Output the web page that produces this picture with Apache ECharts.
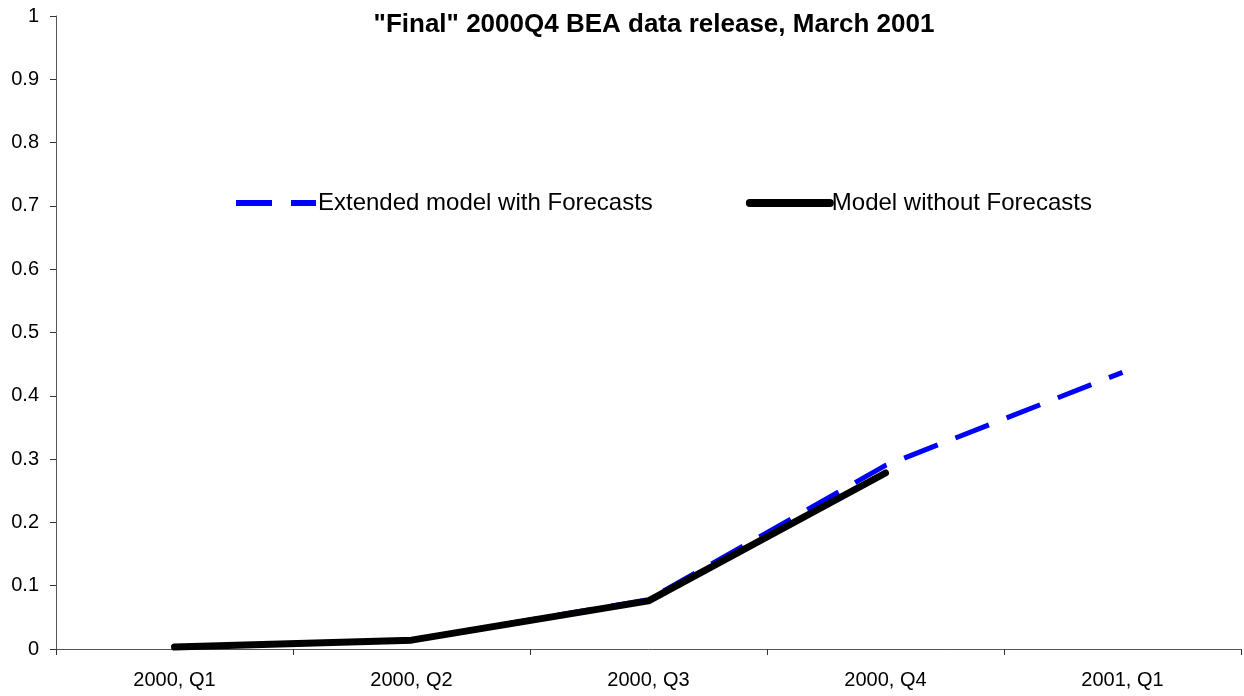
<!DOCTYPE html>
<html>
<head>
<meta charset="utf-8">
<script src="https://cdn.jsdelivr.net/npm/echarts@6/dist/echarts.min.js"></script>
<style>
  html, body { margin: 0; padding: 0; background: #fff; }
  #chart { width: 1244px; height: 696px; }
</style>
</head>
<body>
<div id="chart"></div>
<script>
// Quarterly categories and the two model paths
const quarters = ['2000, Q1', '2000, Q2', '2000, Q3', '2000, Q4', '2001, Q1'];
const extendedWithForecasts = [0.003, 0.014, 0.078, 0.290, 0.437];
const withoutForecasts = [0.003, 0.014, 0.076, 0.278, null];
const yTicks = [0, 0.1, 0.2, 0.3, 0.4, 0.5, 0.6, 0.7, 0.8, 0.9, 1];

const font = '"Liberation Sans", Arial, sans-serif';
const hidden = 'rgba(0,0,0,0)';
const chart = echarts.init(document.getElementById('chart'));

chart.setOption({
  animation: false,
  backgroundColor: '#fff',
  title: {
    text: '"Final" 2000Q4 BEA data release, March 2001',
    left: 649, top: 7, textAlign: 'center',
    textStyle: { fontFamily: font, fontSize: 26, fontWeight: 'bold', color: '#000' }
  },
  legend: {
    left: 228, top: 186,
    itemWidth: 80, itemHeight: 14, itemGap: 93,
    textStyle: { fontFamily: font, fontSize: 24, color: '#000', padding: [0, 0, 0, -3] },
    data: [
      {
        name: 'Extended model with Forecasts',
        itemStyle: { color: hidden, borderColor: hidden, borderWidth: 0 },
        lineStyle: { color: '#0000ff', width: 6, type: [36, 19] }
      },
      {
        name: 'Model without Forecasts',
        itemStyle: { color: hidden, borderColor: hidden, borderWidth: 0 },
        lineStyle: { color: '#000', width: 8, cap: 'round' }
      }
    ]
  },
  grid: { left: 56, right: 3, top: 16, bottom: 47, containLabel: false },
  xAxis: {
    type: 'category',
    data: quarters,
    boundaryGap: true,
    axisLine: { lineStyle: { color: '#555', width: 1 } },
    axisTick: { show: true, length: 6, lineStyle: { color: '#333' } },
    axisLabel: { fontFamily: font, fontSize: 20, color: '#000', margin: 21 },
    splitLine: { show: false }
  },
  yAxis: {
    type: 'value',
    min: 0, max: 1, interval: 0.1,
    axisLine: { show: true, lineStyle: { color: '#555', width: 1 } },
    axisTick: { show: true, length: 6, lineStyle: { color: '#333' } },
    axisLabel: {
      fontFamily: font, fontSize: 20, color: '#000', margin: 17,
      formatter: v => {
        const t = yTicks.find(k => Math.abs(k - v) < 1e-9);
        return t === undefined ? '' : String(t);
      }
    },
    splitLine: { show: false }
  },
  series: [
    {
      name: 'Extended model with Forecasts',
      type: 'line',
      data: extendedWithForecasts,
      showSymbol: false,
      symbol: 'none',
      z: 2,
      lineStyle: { color: '#0000ff', width: 5, type: [36, 19] },
      itemStyle: { color: '#0000ff' }
    },
    {
      name: 'Model without Forecasts',
      type: 'line',
      data: withoutForecasts,
      showSymbol: false,
      symbol: 'none',
      z: 3,
      lineStyle: { color: '#000', width: 7, cap: 'round', join: 'round' },
      itemStyle: { color: '#000' }
    }
  ]
});
</script>
</body>
</html>
